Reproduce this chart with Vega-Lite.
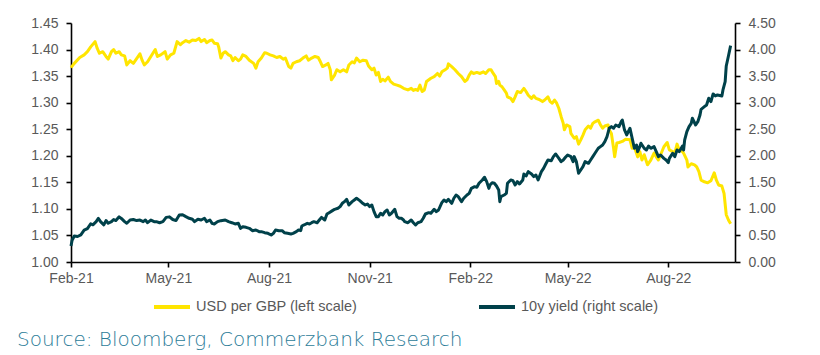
{
  "$schema": "https://vega.github.io/schema/vega-lite/v6.json",
  "autosize": {"type": "none"},
  "width": 664,
  "height": 239,
  "padding": {"left": 71, "top": 23, "right": 85, "bottom": 93},
  "background": "white",
  "title": {
    "text": "Source: Bloomberg, Commerzbank Research",
    "orient": "bottom",
    "anchor": "start",
    "frame": "group",
    "dx": -54,
    "offset": 15,
    "font": "DejaVu Sans",
    "fontSize": 20,
    "fontWeight": 200,
    "color": "#2c7c98"
  },
  "datasets": {
    "gbp": [
      {"date": "2021-02-01", "usd_per_gbp": 1.366},
      {"date": "2021-02-04", "usd_per_gbp": 1.374},
      {"date": "2021-02-09", "usd_per_gbp": 1.385},
      {"date": "2021-02-13", "usd_per_gbp": 1.390},
      {"date": "2021-02-16", "usd_per_gbp": 1.396},
      {"date": "2021-02-19", "usd_per_gbp": 1.405},
      {"date": "2021-02-23", "usd_per_gbp": 1.415},
      {"date": "2021-02-25", "usd_per_gbp": 1.402},
      {"date": "2021-02-27", "usd_per_gbp": 1.393},
      {"date": "2021-03-02", "usd_per_gbp": 1.396},
      {"date": "2021-03-05", "usd_per_gbp": 1.387},
      {"date": "2021-03-07", "usd_per_gbp": 1.382},
      {"date": "2021-03-10", "usd_per_gbp": 1.396},
      {"date": "2021-03-12", "usd_per_gbp": 1.400},
      {"date": "2021-03-14", "usd_per_gbp": 1.393},
      {"date": "2021-03-17", "usd_per_gbp": 1.396},
      {"date": "2021-03-19", "usd_per_gbp": 1.390},
      {"date": "2021-03-22", "usd_per_gbp": 1.388},
      {"date": "2021-03-24", "usd_per_gbp": 1.371},
      {"date": "2021-03-27", "usd_per_gbp": 1.379},
      {"date": "2021-03-30", "usd_per_gbp": 1.374},
      {"date": "2021-04-02", "usd_per_gbp": 1.383},
      {"date": "2021-04-05", "usd_per_gbp": 1.392},
      {"date": "2021-04-07", "usd_per_gbp": 1.380},
      {"date": "2021-04-09", "usd_per_gbp": 1.371},
      {"date": "2021-04-12", "usd_per_gbp": 1.377},
      {"date": "2021-04-15", "usd_per_gbp": 1.387},
      {"date": "2021-04-19", "usd_per_gbp": 1.400},
      {"date": "2021-04-21", "usd_per_gbp": 1.387},
      {"date": "2021-04-24", "usd_per_gbp": 1.390},
      {"date": "2021-04-28", "usd_per_gbp": 1.396},
      {"date": "2021-04-30", "usd_per_gbp": 1.382},
      {"date": "2021-05-03", "usd_per_gbp": 1.390},
      {"date": "2021-05-06", "usd_per_gbp": 1.393},
      {"date": "2021-05-09", "usd_per_gbp": 1.415},
      {"date": "2021-05-12", "usd_per_gbp": 1.409},
      {"date": "2021-05-14", "usd_per_gbp": 1.413},
      {"date": "2021-05-17", "usd_per_gbp": 1.417},
      {"date": "2021-05-20", "usd_per_gbp": 1.414},
      {"date": "2021-05-23", "usd_per_gbp": 1.418},
      {"date": "2021-05-26", "usd_per_gbp": 1.417},
      {"date": "2021-05-29", "usd_per_gbp": 1.421},
      {"date": "2021-05-31", "usd_per_gbp": 1.415},
      {"date": "2021-06-03", "usd_per_gbp": 1.419},
      {"date": "2021-06-05", "usd_per_gbp": 1.413},
      {"date": "2021-06-08", "usd_per_gbp": 1.417},
      {"date": "2021-06-10", "usd_per_gbp": 1.418},
      {"date": "2021-06-12", "usd_per_gbp": 1.412},
      {"date": "2021-06-15", "usd_per_gbp": 1.411},
      {"date": "2021-06-16", "usd_per_gbp": 1.405},
      {"date": "2021-06-18", "usd_per_gbp": 1.384},
      {"date": "2021-06-20", "usd_per_gbp": 1.393},
      {"date": "2021-06-22", "usd_per_gbp": 1.396},
      {"date": "2021-06-25", "usd_per_gbp": 1.390},
      {"date": "2021-06-27", "usd_per_gbp": 1.388},
      {"date": "2021-06-29", "usd_per_gbp": 1.379},
      {"date": "2021-07-01", "usd_per_gbp": 1.385},
      {"date": "2021-07-04", "usd_per_gbp": 1.379},
      {"date": "2021-07-06", "usd_per_gbp": 1.382},
      {"date": "2021-07-08", "usd_per_gbp": 1.390},
      {"date": "2021-07-11", "usd_per_gbp": 1.387},
      {"date": "2021-07-14", "usd_per_gbp": 1.380},
      {"date": "2021-07-18", "usd_per_gbp": 1.374},
      {"date": "2021-07-20", "usd_per_gbp": 1.365},
      {"date": "2021-07-22", "usd_per_gbp": 1.377},
      {"date": "2021-07-25", "usd_per_gbp": 1.384},
      {"date": "2021-07-28", "usd_per_gbp": 1.394},
      {"date": "2021-07-30", "usd_per_gbp": 1.393},
      {"date": "2021-08-02", "usd_per_gbp": 1.390},
      {"date": "2021-08-05", "usd_per_gbp": 1.388},
      {"date": "2021-08-08", "usd_per_gbp": 1.385},
      {"date": "2021-08-11", "usd_per_gbp": 1.387},
      {"date": "2021-08-14", "usd_per_gbp": 1.382},
      {"date": "2021-08-16", "usd_per_gbp": 1.384},
      {"date": "2021-08-19", "usd_per_gbp": 1.368},
      {"date": "2021-08-21", "usd_per_gbp": 1.365},
      {"date": "2021-08-23", "usd_per_gbp": 1.374},
      {"date": "2021-08-26", "usd_per_gbp": 1.377},
      {"date": "2021-08-29", "usd_per_gbp": 1.379},
      {"date": "2021-09-01", "usd_per_gbp": 1.384},
      {"date": "2021-09-04", "usd_per_gbp": 1.388},
      {"date": "2021-09-06", "usd_per_gbp": 1.380},
      {"date": "2021-09-09", "usd_per_gbp": 1.384},
      {"date": "2021-09-12", "usd_per_gbp": 1.387},
      {"date": "2021-09-15", "usd_per_gbp": 1.385},
      {"date": "2021-09-17", "usd_per_gbp": 1.377},
      {"date": "2021-09-19", "usd_per_gbp": 1.368},
      {"date": "2021-09-22", "usd_per_gbp": 1.371},
      {"date": "2021-09-24", "usd_per_gbp": 1.374},
      {"date": "2021-09-26", "usd_per_gbp": 1.362},
      {"date": "2021-09-27", "usd_per_gbp": 1.343},
      {"date": "2021-09-30", "usd_per_gbp": 1.352},
      {"date": "2021-10-02", "usd_per_gbp": 1.362},
      {"date": "2021-10-05", "usd_per_gbp": 1.358},
      {"date": "2021-10-08", "usd_per_gbp": 1.362},
      {"date": "2021-10-11", "usd_per_gbp": 1.358},
      {"date": "2021-10-13", "usd_per_gbp": 1.371},
      {"date": "2021-10-16", "usd_per_gbp": 1.377},
      {"date": "2021-10-18", "usd_per_gbp": 1.375},
      {"date": "2021-10-20", "usd_per_gbp": 1.384},
      {"date": "2021-10-23", "usd_per_gbp": 1.377},
      {"date": "2021-10-26", "usd_per_gbp": 1.380},
      {"date": "2021-10-29", "usd_per_gbp": 1.379},
      {"date": "2021-10-31", "usd_per_gbp": 1.369},
      {"date": "2021-11-03", "usd_per_gbp": 1.362},
      {"date": "2021-11-05", "usd_per_gbp": 1.365},
      {"date": "2021-11-07", "usd_per_gbp": 1.352},
      {"date": "2021-11-09", "usd_per_gbp": 1.357},
      {"date": "2021-11-11", "usd_per_gbp": 1.340},
      {"date": "2021-11-13", "usd_per_gbp": 1.344},
      {"date": "2021-11-15", "usd_per_gbp": 1.341},
      {"date": "2021-11-18", "usd_per_gbp": 1.348},
      {"date": "2021-11-20", "usd_per_gbp": 1.340},
      {"date": "2021-11-23", "usd_per_gbp": 1.335},
      {"date": "2021-11-26", "usd_per_gbp": 1.333},
      {"date": "2021-11-29", "usd_per_gbp": 1.331},
      {"date": "2021-12-02", "usd_per_gbp": 1.327},
      {"date": "2021-12-06", "usd_per_gbp": 1.324},
      {"date": "2021-12-09", "usd_per_gbp": 1.327},
      {"date": "2021-12-11", "usd_per_gbp": 1.323},
      {"date": "2021-12-13", "usd_per_gbp": 1.325},
      {"date": "2021-12-15", "usd_per_gbp": 1.323},
      {"date": "2021-12-17", "usd_per_gbp": 1.333},
      {"date": "2021-12-19", "usd_per_gbp": 1.321},
      {"date": "2021-12-21", "usd_per_gbp": 1.324},
      {"date": "2021-12-23", "usd_per_gbp": 1.340},
      {"date": "2021-12-27", "usd_per_gbp": 1.346},
      {"date": "2021-12-30", "usd_per_gbp": 1.349},
      {"date": "2022-01-02", "usd_per_gbp": 1.355},
      {"date": "2022-01-04", "usd_per_gbp": 1.350},
      {"date": "2022-01-06", "usd_per_gbp": 1.358},
      {"date": "2022-01-09", "usd_per_gbp": 1.362},
      {"date": "2022-01-11", "usd_per_gbp": 1.365},
      {"date": "2022-01-12", "usd_per_gbp": 1.373},
      {"date": "2022-01-15", "usd_per_gbp": 1.368},
      {"date": "2022-01-18", "usd_per_gbp": 1.362},
      {"date": "2022-01-21", "usd_per_gbp": 1.355},
      {"date": "2022-01-24", "usd_per_gbp": 1.349},
      {"date": "2022-01-27", "usd_per_gbp": 1.340},
      {"date": "2022-01-29", "usd_per_gbp": 1.343},
      {"date": "2022-01-31", "usd_per_gbp": 1.352},
      {"date": "2022-02-02", "usd_per_gbp": 1.358},
      {"date": "2022-02-04", "usd_per_gbp": 1.355},
      {"date": "2022-02-07", "usd_per_gbp": 1.357},
      {"date": "2022-02-10", "usd_per_gbp": 1.355},
      {"date": "2022-02-13", "usd_per_gbp": 1.358},
      {"date": "2022-02-15", "usd_per_gbp": 1.355},
      {"date": "2022-02-18", "usd_per_gbp": 1.362},
      {"date": "2022-02-20", "usd_per_gbp": 1.362},
      {"date": "2022-02-22", "usd_per_gbp": 1.355},
      {"date": "2022-02-24", "usd_per_gbp": 1.349},
      {"date": "2022-02-25", "usd_per_gbp": 1.336},
      {"date": "2022-02-27", "usd_per_gbp": 1.340},
      {"date": "2022-02-28", "usd_per_gbp": 1.333},
      {"date": "2022-03-02", "usd_per_gbp": 1.330},
      {"date": "2022-03-04", "usd_per_gbp": 1.324},
      {"date": "2022-03-06", "usd_per_gbp": 1.318},
      {"date": "2022-03-07", "usd_per_gbp": 1.311},
      {"date": "2022-03-10", "usd_per_gbp": 1.308},
      {"date": "2022-03-12", "usd_per_gbp": 1.302},
      {"date": "2022-03-14", "usd_per_gbp": 1.311},
      {"date": "2022-03-16", "usd_per_gbp": 1.321},
      {"date": "2022-03-19", "usd_per_gbp": 1.319},
      {"date": "2022-03-22", "usd_per_gbp": 1.327},
      {"date": "2022-03-24", "usd_per_gbp": 1.321},
      {"date": "2022-03-26", "usd_per_gbp": 1.314},
      {"date": "2022-03-29", "usd_per_gbp": 1.308},
      {"date": "2022-03-31", "usd_per_gbp": 1.313},
      {"date": "2022-04-02", "usd_per_gbp": 1.308},
      {"date": "2022-04-05", "usd_per_gbp": 1.306},
      {"date": "2022-04-08", "usd_per_gbp": 1.302},
      {"date": "2022-04-10", "usd_per_gbp": 1.305},
      {"date": "2022-04-13", "usd_per_gbp": 1.311},
      {"date": "2022-04-15", "usd_per_gbp": 1.302},
      {"date": "2022-04-17", "usd_per_gbp": 1.299},
      {"date": "2022-04-19", "usd_per_gbp": 1.305},
      {"date": "2022-04-21", "usd_per_gbp": 1.299},
      {"date": "2022-04-23", "usd_per_gbp": 1.289},
      {"date": "2022-04-25", "usd_per_gbp": 1.274},
      {"date": "2022-04-27", "usd_per_gbp": 1.261},
      {"date": "2022-04-28", "usd_per_gbp": 1.249},
      {"date": "2022-04-30", "usd_per_gbp": 1.258},
      {"date": "2022-05-03", "usd_per_gbp": 1.255},
      {"date": "2022-05-04", "usd_per_gbp": 1.242},
      {"date": "2022-05-07", "usd_per_gbp": 1.233},
      {"date": "2022-05-09", "usd_per_gbp": 1.236},
      {"date": "2022-05-11", "usd_per_gbp": 1.222},
      {"date": "2022-05-13", "usd_per_gbp": 1.230},
      {"date": "2022-05-15", "usd_per_gbp": 1.239},
      {"date": "2022-05-17", "usd_per_gbp": 1.249},
      {"date": "2022-05-20", "usd_per_gbp": 1.256},
      {"date": "2022-05-22", "usd_per_gbp": 1.252},
      {"date": "2022-05-24", "usd_per_gbp": 1.261},
      {"date": "2022-05-26", "usd_per_gbp": 1.264},
      {"date": "2022-05-29", "usd_per_gbp": 1.267},
      {"date": "2022-05-31", "usd_per_gbp": 1.258},
      {"date": "2022-06-02", "usd_per_gbp": 1.252},
      {"date": "2022-06-04", "usd_per_gbp": 1.256},
      {"date": "2022-06-07", "usd_per_gbp": 1.258},
      {"date": "2022-06-08", "usd_per_gbp": 1.249},
      {"date": "2022-06-10", "usd_per_gbp": 1.242},
      {"date": "2022-06-12", "usd_per_gbp": 1.214},
      {"date": "2022-06-13", "usd_per_gbp": 1.198},
      {"date": "2022-06-15", "usd_per_gbp": 1.224},
      {"date": "2022-06-17", "usd_per_gbp": 1.225},
      {"date": "2022-06-20", "usd_per_gbp": 1.227},
      {"date": "2022-06-23", "usd_per_gbp": 1.231},
      {"date": "2022-06-27", "usd_per_gbp": 1.230},
      {"date": "2022-06-29", "usd_per_gbp": 1.214},
      {"date": "2022-07-01", "usd_per_gbp": 1.217},
      {"date": "2022-07-04", "usd_per_gbp": 1.198},
      {"date": "2022-07-06", "usd_per_gbp": 1.208},
      {"date": "2022-07-08", "usd_per_gbp": 1.192},
      {"date": "2022-07-10", "usd_per_gbp": 1.202},
      {"date": "2022-07-13", "usd_per_gbp": 1.183},
      {"date": "2022-07-16", "usd_per_gbp": 1.192},
      {"date": "2022-07-19", "usd_per_gbp": 1.205},
      {"date": "2022-07-21", "usd_per_gbp": 1.198},
      {"date": "2022-07-23", "usd_per_gbp": 1.192},
      {"date": "2022-07-25", "usd_per_gbp": 1.202},
      {"date": "2022-07-28", "usd_per_gbp": 1.217},
      {"date": "2022-07-31", "usd_per_gbp": 1.225},
      {"date": "2022-08-02", "usd_per_gbp": 1.211},
      {"date": "2022-08-05", "usd_per_gbp": 1.208},
      {"date": "2022-08-07", "usd_per_gbp": 1.205},
      {"date": "2022-08-09", "usd_per_gbp": 1.222},
      {"date": "2022-08-11", "usd_per_gbp": 1.211},
      {"date": "2022-08-14", "usd_per_gbp": 1.208},
      {"date": "2022-08-15", "usd_per_gbp": 1.205},
      {"date": "2022-08-18", "usd_per_gbp": 1.192},
      {"date": "2022-08-19", "usd_per_gbp": 1.179},
      {"date": "2022-08-22", "usd_per_gbp": 1.185},
      {"date": "2022-08-25", "usd_per_gbp": 1.183},
      {"date": "2022-08-27", "usd_per_gbp": 1.179},
      {"date": "2022-08-29", "usd_per_gbp": 1.170},
      {"date": "2022-08-31", "usd_per_gbp": 1.154},
      {"date": "2022-09-03", "usd_per_gbp": 1.151},
      {"date": "2022-09-06", "usd_per_gbp": 1.149},
      {"date": "2022-09-09", "usd_per_gbp": 1.153},
      {"date": "2022-09-12", "usd_per_gbp": 1.168},
      {"date": "2022-09-14", "usd_per_gbp": 1.154},
      {"date": "2022-09-16", "usd_per_gbp": 1.145},
      {"date": "2022-09-19", "usd_per_gbp": 1.143},
      {"date": "2022-09-21", "usd_per_gbp": 1.129},
      {"date": "2022-09-23", "usd_per_gbp": 1.089},
      {"date": "2022-09-25", "usd_per_gbp": 1.079},
      {"date": "2022-09-27", "usd_per_gbp": 1.072}
    ],
    "yld": [
      {"date": "2021-02-01", "yield_10y": 0.30},
      {"date": "2021-02-02", "yield_10y": 0.41},
      {"date": "2021-02-04", "yield_10y": 0.49},
      {"date": "2021-02-07", "yield_10y": 0.48},
      {"date": "2021-02-10", "yield_10y": 0.51},
      {"date": "2021-02-13", "yield_10y": 0.60},
      {"date": "2021-02-16", "yield_10y": 0.63},
      {"date": "2021-02-19", "yield_10y": 0.72},
      {"date": "2021-02-21", "yield_10y": 0.70},
      {"date": "2021-02-24", "yield_10y": 0.76},
      {"date": "2021-02-26", "yield_10y": 0.82},
      {"date": "2021-02-28", "yield_10y": 0.76},
      {"date": "2021-03-03", "yield_10y": 0.70},
      {"date": "2021-03-05", "yield_10y": 0.78},
      {"date": "2021-03-07", "yield_10y": 0.73},
      {"date": "2021-03-10", "yield_10y": 0.76},
      {"date": "2021-03-12", "yield_10y": 0.80},
      {"date": "2021-03-14", "yield_10y": 0.78},
      {"date": "2021-03-17", "yield_10y": 0.85},
      {"date": "2021-03-19", "yield_10y": 0.82},
      {"date": "2021-03-22", "yield_10y": 0.76},
      {"date": "2021-03-24", "yield_10y": 0.73},
      {"date": "2021-03-27", "yield_10y": 0.79},
      {"date": "2021-03-30", "yield_10y": 0.80},
      {"date": "2021-04-02", "yield_10y": 0.78},
      {"date": "2021-04-05", "yield_10y": 0.79},
      {"date": "2021-04-08", "yield_10y": 0.76},
      {"date": "2021-04-10", "yield_10y": 0.79},
      {"date": "2021-04-12", "yield_10y": 0.74},
      {"date": "2021-04-15", "yield_10y": 0.79},
      {"date": "2021-04-18", "yield_10y": 0.76},
      {"date": "2021-04-20", "yield_10y": 0.76},
      {"date": "2021-04-23", "yield_10y": 0.74},
      {"date": "2021-04-26", "yield_10y": 0.76},
      {"date": "2021-04-29", "yield_10y": 0.84},
      {"date": "2021-05-02", "yield_10y": 0.85},
      {"date": "2021-05-05", "yield_10y": 0.80},
      {"date": "2021-05-08", "yield_10y": 0.78},
      {"date": "2021-05-11", "yield_10y": 0.885},
      {"date": "2021-05-14", "yield_10y": 0.89},
      {"date": "2021-05-17", "yield_10y": 0.854},
      {"date": "2021-05-20", "yield_10y": 0.823},
      {"date": "2021-05-23", "yield_10y": 0.804},
      {"date": "2021-05-25", "yield_10y": 0.760},
      {"date": "2021-05-28", "yield_10y": 0.804},
      {"date": "2021-05-31", "yield_10y": 0.791},
      {"date": "2021-06-03", "yield_10y": 0.823},
      {"date": "2021-06-05", "yield_10y": 0.760},
      {"date": "2021-06-08", "yield_10y": 0.791},
      {"date": "2021-06-10", "yield_10y": 0.728},
      {"date": "2021-06-12", "yield_10y": 0.716},
      {"date": "2021-06-15", "yield_10y": 0.760},
      {"date": "2021-06-18", "yield_10y": 0.778},
      {"date": "2021-06-22", "yield_10y": 0.791},
      {"date": "2021-06-25", "yield_10y": 0.760},
      {"date": "2021-06-28", "yield_10y": 0.740},
      {"date": "2021-07-01", "yield_10y": 0.716},
      {"date": "2021-07-04", "yield_10y": 0.728},
      {"date": "2021-07-06", "yield_10y": 0.634},
      {"date": "2021-07-08", "yield_10y": 0.665},
      {"date": "2021-07-11", "yield_10y": 0.653},
      {"date": "2021-07-14", "yield_10y": 0.634},
      {"date": "2021-07-17", "yield_10y": 0.590},
      {"date": "2021-07-20", "yield_10y": 0.603},
      {"date": "2021-07-23", "yield_10y": 0.571},
      {"date": "2021-07-25", "yield_10y": 0.571},
      {"date": "2021-07-28", "yield_10y": 0.552},
      {"date": "2021-07-31", "yield_10y": 0.540},
      {"date": "2021-08-03", "yield_10y": 0.508},
      {"date": "2021-08-05", "yield_10y": 0.540},
      {"date": "2021-08-07", "yield_10y": 0.603},
      {"date": "2021-08-10", "yield_10y": 0.590},
      {"date": "2021-08-13", "yield_10y": 0.590},
      {"date": "2021-08-15", "yield_10y": 0.552},
      {"date": "2021-08-18", "yield_10y": 0.540},
      {"date": "2021-08-21", "yield_10y": 0.527},
      {"date": "2021-08-23", "yield_10y": 0.540},
      {"date": "2021-08-26", "yield_10y": 0.571},
      {"date": "2021-08-28", "yield_10y": 0.603},
      {"date": "2021-08-30", "yield_10y": 0.590},
      {"date": "2021-08-31", "yield_10y": 0.678},
      {"date": "2021-09-02", "yield_10y": 0.697},
      {"date": "2021-09-05", "yield_10y": 0.728},
      {"date": "2021-09-07", "yield_10y": 0.716},
      {"date": "2021-09-09", "yield_10y": 0.740},
      {"date": "2021-09-11", "yield_10y": 0.760},
      {"date": "2021-09-14", "yield_10y": 0.740},
      {"date": "2021-09-16", "yield_10y": 0.791},
      {"date": "2021-09-18", "yield_10y": 0.841},
      {"date": "2021-09-21", "yield_10y": 0.791},
      {"date": "2021-09-23", "yield_10y": 0.904},
      {"date": "2021-09-25", "yield_10y": 0.929},
      {"date": "2021-09-28", "yield_10y": 0.967},
      {"date": "2021-09-30", "yield_10y": 0.992},
      {"date": "2021-10-03", "yield_10y": 1.011},
      {"date": "2021-10-05", "yield_10y": 1.042},
      {"date": "2021-10-07", "yield_10y": 1.105},
      {"date": "2021-10-09", "yield_10y": 1.136},
      {"date": "2021-10-11", "yield_10y": 1.180},
      {"date": "2021-10-13", "yield_10y": 1.073},
      {"date": "2021-10-16", "yield_10y": 1.136},
      {"date": "2021-10-18", "yield_10y": 1.168},
      {"date": "2021-10-20", "yield_10y": 1.200},
      {"date": "2021-10-23", "yield_10y": 1.155},
      {"date": "2021-10-25", "yield_10y": 1.117},
      {"date": "2021-10-28", "yield_10y": 1.073},
      {"date": "2021-10-30", "yield_10y": 1.092},
      {"date": "2021-11-01", "yield_10y": 1.042},
      {"date": "2021-11-03", "yield_10y": 1.073},
      {"date": "2021-11-05", "yield_10y": 0.948},
      {"date": "2021-11-07", "yield_10y": 0.854},
      {"date": "2021-11-09", "yield_10y": 0.854},
      {"date": "2021-11-11", "yield_10y": 0.917},
      {"date": "2021-11-13", "yield_10y": 0.885},
      {"date": "2021-11-15", "yield_10y": 0.948},
      {"date": "2021-11-17", "yield_10y": 0.979},
      {"date": "2021-11-19", "yield_10y": 0.885},
      {"date": "2021-11-21", "yield_10y": 0.917},
      {"date": "2021-11-24", "yield_10y": 0.992},
      {"date": "2021-11-26", "yield_10y": 0.854},
      {"date": "2021-11-28", "yield_10y": 0.823},
      {"date": "2021-11-30", "yield_10y": 0.823},
      {"date": "2021-12-02", "yield_10y": 0.791},
      {"date": "2021-12-03", "yield_10y": 0.760},
      {"date": "2021-12-06", "yield_10y": 0.740},
      {"date": "2021-12-09", "yield_10y": 0.791},
      {"date": "2021-12-11", "yield_10y": 0.740},
      {"date": "2021-12-13", "yield_10y": 0.697},
      {"date": "2021-12-15", "yield_10y": 0.740},
      {"date": "2021-12-18", "yield_10y": 0.760},
      {"date": "2021-12-20", "yield_10y": 0.823},
      {"date": "2021-12-22", "yield_10y": 0.904},
      {"date": "2021-12-25", "yield_10y": 0.929},
      {"date": "2021-12-27", "yield_10y": 0.917},
      {"date": "2021-12-30", "yield_10y": 0.992},
      {"date": "2022-01-01", "yield_10y": 0.948},
      {"date": "2022-01-03", "yield_10y": 0.979},
      {"date": "2022-01-06", "yield_10y": 1.117},
      {"date": "2022-01-08", "yield_10y": 1.168},
      {"date": "2022-01-10", "yield_10y": 1.136},
      {"date": "2022-01-12", "yield_10y": 1.180},
      {"date": "2022-01-15", "yield_10y": 1.105},
      {"date": "2022-01-17", "yield_10y": 1.200},
      {"date": "2022-01-19", "yield_10y": 1.262},
      {"date": "2022-01-21", "yield_10y": 1.230},
      {"date": "2022-01-24", "yield_10y": 1.136},
      {"date": "2022-01-26", "yield_10y": 1.200},
      {"date": "2022-01-29", "yield_10y": 1.262},
      {"date": "2022-01-31", "yield_10y": 1.293},
      {"date": "2022-02-02", "yield_10y": 1.387},
      {"date": "2022-02-05", "yield_10y": 1.419},
      {"date": "2022-02-07", "yield_10y": 1.406},
      {"date": "2022-02-09", "yield_10y": 1.482},
      {"date": "2022-02-12", "yield_10y": 1.544},
      {"date": "2022-02-14", "yield_10y": 1.595},
      {"date": "2022-02-16", "yield_10y": 1.513},
      {"date": "2022-02-18", "yield_10y": 1.387},
      {"date": "2022-02-19", "yield_10y": 1.450},
      {"date": "2022-02-21", "yield_10y": 1.494},
      {"date": "2022-02-23", "yield_10y": 1.482},
      {"date": "2022-02-25", "yield_10y": 1.431},
      {"date": "2022-02-27", "yield_10y": 1.356},
      {"date": "2022-02-28", "yield_10y": 1.136},
      {"date": "2022-03-01", "yield_10y": 1.230},
      {"date": "2022-03-04", "yield_10y": 1.262},
      {"date": "2022-03-06", "yield_10y": 1.293},
      {"date": "2022-03-07", "yield_10y": 1.482},
      {"date": "2022-03-10", "yield_10y": 1.544},
      {"date": "2022-03-12", "yield_10y": 1.531},
      {"date": "2022-03-14", "yield_10y": 1.450},
      {"date": "2022-03-16", "yield_10y": 1.513},
      {"date": "2022-03-18", "yield_10y": 1.469},
      {"date": "2022-03-21", "yield_10y": 1.544},
      {"date": "2022-03-22", "yield_10y": 1.657},
      {"date": "2022-03-24", "yield_10y": 1.620},
      {"date": "2022-03-26", "yield_10y": 1.701},
      {"date": "2022-03-29", "yield_10y": 1.657},
      {"date": "2022-03-31", "yield_10y": 1.607},
      {"date": "2022-04-02", "yield_10y": 1.638},
      {"date": "2022-04-04", "yield_10y": 1.544},
      {"date": "2022-04-07", "yield_10y": 1.701},
      {"date": "2022-04-09", "yield_10y": 1.764},
      {"date": "2022-04-11", "yield_10y": 1.846},
      {"date": "2022-04-13", "yield_10y": 1.921},
      {"date": "2022-04-16", "yield_10y": 1.908},
      {"date": "2022-04-18", "yield_10y": 1.984},
      {"date": "2022-04-20", "yield_10y": 2.034},
      {"date": "2022-04-23", "yield_10y": 1.952},
      {"date": "2022-04-25", "yield_10y": 1.889},
      {"date": "2022-04-27", "yield_10y": 1.921},
      {"date": "2022-04-29", "yield_10y": 1.971},
      {"date": "2022-05-01", "yield_10y": 2.015},
      {"date": "2022-05-04", "yield_10y": 1.984},
      {"date": "2022-05-06", "yield_10y": 1.889},
      {"date": "2022-05-07", "yield_10y": 1.984},
      {"date": "2022-05-09", "yield_10y": 1.889},
      {"date": "2022-05-11", "yield_10y": 1.670},
      {"date": "2022-05-13", "yield_10y": 1.733},
      {"date": "2022-05-15", "yield_10y": 1.795},
      {"date": "2022-05-17", "yield_10y": 1.889},
      {"date": "2022-05-20", "yield_10y": 1.858},
      {"date": "2022-05-22", "yield_10y": 1.921},
      {"date": "2022-05-24", "yield_10y": 1.984},
      {"date": "2022-05-26", "yield_10y": 2.047},
      {"date": "2022-05-29", "yield_10y": 2.141},
      {"date": "2022-05-31", "yield_10y": 2.172},
      {"date": "2022-06-02", "yield_10y": 2.203},
      {"date": "2022-06-04", "yield_10y": 2.266},
      {"date": "2022-06-06", "yield_10y": 2.360},
      {"date": "2022-06-08", "yield_10y": 2.518},
      {"date": "2022-06-10", "yield_10y": 2.549},
      {"date": "2022-06-12", "yield_10y": 2.518},
      {"date": "2022-06-14", "yield_10y": 2.580},
      {"date": "2022-06-17", "yield_10y": 2.549},
      {"date": "2022-06-19", "yield_10y": 2.642},
      {"date": "2022-06-20", "yield_10y": 2.674},
      {"date": "2022-06-22", "yield_10y": 2.486},
      {"date": "2022-06-24", "yield_10y": 2.392},
      {"date": "2022-06-27", "yield_10y": 2.518},
      {"date": "2022-06-28", "yield_10y": 2.423},
      {"date": "2022-06-30", "yield_10y": 2.235},
      {"date": "2022-07-01", "yield_10y": 2.141},
      {"date": "2022-07-03", "yield_10y": 2.203},
      {"date": "2022-07-04", "yield_10y": 2.078},
      {"date": "2022-07-06", "yield_10y": 2.172},
      {"date": "2022-07-07", "yield_10y": 2.235},
      {"date": "2022-07-10", "yield_10y": 2.141},
      {"date": "2022-07-12", "yield_10y": 2.109},
      {"date": "2022-07-14", "yield_10y": 2.184},
      {"date": "2022-07-16", "yield_10y": 2.141},
      {"date": "2022-07-19", "yield_10y": 2.172},
      {"date": "2022-07-21", "yield_10y": 2.078},
      {"date": "2022-07-23", "yield_10y": 1.984},
      {"date": "2022-07-25", "yield_10y": 2.015},
      {"date": "2022-07-28", "yield_10y": 1.952},
      {"date": "2022-07-30", "yield_10y": 1.921},
      {"date": "2022-08-01", "yield_10y": 1.871},
      {"date": "2022-08-02", "yield_10y": 1.952},
      {"date": "2022-08-05", "yield_10y": 2.047},
      {"date": "2022-08-07", "yield_10y": 1.984},
      {"date": "2022-08-09", "yield_10y": 2.109},
      {"date": "2022-08-11", "yield_10y": 2.078},
      {"date": "2022-08-14", "yield_10y": 2.184},
      {"date": "2022-08-15", "yield_10y": 2.109},
      {"date": "2022-08-16", "yield_10y": 2.298},
      {"date": "2022-08-18", "yield_10y": 2.455},
      {"date": "2022-08-20", "yield_10y": 2.549},
      {"date": "2022-08-22", "yield_10y": 2.611},
      {"date": "2022-08-23", "yield_10y": 2.706},
      {"date": "2022-08-26", "yield_10y": 2.580},
      {"date": "2022-08-28", "yield_10y": 2.642},
      {"date": "2022-08-30", "yield_10y": 2.768},
      {"date": "2022-08-31", "yield_10y": 2.875},
      {"date": "2022-09-03", "yield_10y": 2.925},
      {"date": "2022-09-05", "yield_10y": 2.957},
      {"date": "2022-09-07", "yield_10y": 3.083},
      {"date": "2022-09-09", "yield_10y": 3.020},
      {"date": "2022-09-11", "yield_10y": 3.164},
      {"date": "2022-09-13", "yield_10y": 3.126},
      {"date": "2022-09-15", "yield_10y": 3.145},
      {"date": "2022-09-19", "yield_10y": 3.126},
      {"date": "2022-09-20", "yield_10y": 3.239},
      {"date": "2022-09-22", "yield_10y": 3.396},
      {"date": "2022-09-23", "yield_10y": 3.691},
      {"date": "2022-09-25", "yield_10y": 3.879},
      {"date": "2022-09-27", "yield_10y": 4.073}
    ]
  },
  "layer": [
    {
      "data": {"name": "gbp"},
      "mark": {"type": "line", "strokeWidth": 3, "strokeJoin": "round"},
      "encoding": {
        "x": {
          "field": "date", "type": "temporal",
          "scale": {"type": "utc", "domain": [{"year": 2021, "month": "feb", "date": 1, "utc": true}, {"year": 2022, "month": "oct", "date": 1, "utc": true}]},
          "axis": {
            "title": null, "labelExpr": "utcFormat(datum.value, '%b-%y')", "labelFlush": false, "labelPadding": 4,
            "values": [
              {"year": 2021, "month": "feb", "date": 1, "utc": true},
              {"year": 2021, "month": "may", "date": 1, "utc": true},
              {"year": 2021, "month": "aug", "date": 1, "utc": true},
              {"year": 2021, "month": "nov", "date": 1, "utc": true},
              {"year": 2022, "month": "feb", "date": 1, "utc": true},
              {"year": 2022, "month": "may", "date": 1, "utc": true},
              {"year": 2022, "month": "aug", "date": 1, "utc": true}
            ]
          }
        },
        "y": {
          "field": "usd_per_gbp", "type": "quantitative",
          "scale": {"domain": [1.0, 1.45], "nice": false, "zero": false},
          "axis": {"orient": "left", "title": null, "format": ".2f", "labelPadding": 8, "values": [1.0, 1.05, 1.1, 1.15, 1.2, 1.25, 1.3, 1.35, 1.4, 1.45]}
        },
        "color": {
          "datum": "USD per GBP (left scale)",
          "scale": {"domain": ["USD per GBP (left scale)", "10y yield (right scale)"], "range": ["#ffe500", "#00414a"]},
          "legend": {
            "orient": "none", "legendX": 81, "legendY": 264, "direction": "horizontal", "columns": 2, "title": null,
            "symbolType": "stroke", "symbolSize": 1296, "symbolStrokeWidth": 4, "labelFontSize": 14.5, "labelFont": "Liberation Sans",
            "labelColor": "#595959", "columnPadding": 113, "labelOffset": 4, "padding": 0, "labelLimit": 300
          }
        }
      }
    },
    {
      "data": {"name": "yld"},
      "mark": {"type": "line", "strokeWidth": 3, "strokeJoin": "round"},
      "encoding": {
        "x": {
          "field": "date", "type": "temporal",
          "scale": {"type": "utc", "domain": [{"year": 2021, "month": "feb", "date": 1, "utc": true}, {"year": 2022, "month": "oct", "date": 1, "utc": true}]},
          "axis": {
            "title": null, "labelExpr": "utcFormat(datum.value, '%b-%y')", "labelFlush": false, "labelPadding": 4,
            "values": [
              {"year": 2021, "month": "feb", "date": 1, "utc": true},
              {"year": 2021, "month": "may", "date": 1, "utc": true},
              {"year": 2021, "month": "aug", "date": 1, "utc": true},
              {"year": 2021, "month": "nov", "date": 1, "utc": true},
              {"year": 2022, "month": "feb", "date": 1, "utc": true},
              {"year": 2022, "month": "may", "date": 1, "utc": true},
              {"year": 2022, "month": "aug", "date": 1, "utc": true}
            ]
          }
        },
        "y": {
          "field": "yield_10y", "type": "quantitative",
          "scale": {"domain": [0, 4.5], "nice": false},
          "axis": {"orient": "right", "title": null, "format": ".2f", "labelPadding": 8, "values": [0, 0.5, 1, 1.5, 2, 2.5, 3, 3.5, 4, 4.5]}
        },
        "color": {"datum": "10y yield (right scale)"}
      }
    }
  ],
  "resolve": {"scale": {"y": "independent"}},
  "config": {
    "view": {"stroke": null},
    "axis": {
      "grid": false,
      "domainColor": "#000000",
      "domainWidth": 1.6,
      "tickColor": "#000000",
      "tickWidth": 1.6,
      "tickSize": 5,
      "labelFont": "Liberation Sans",
      "labelFontSize": 14,
      "labelColor": "#595959"
    }
  }
}
